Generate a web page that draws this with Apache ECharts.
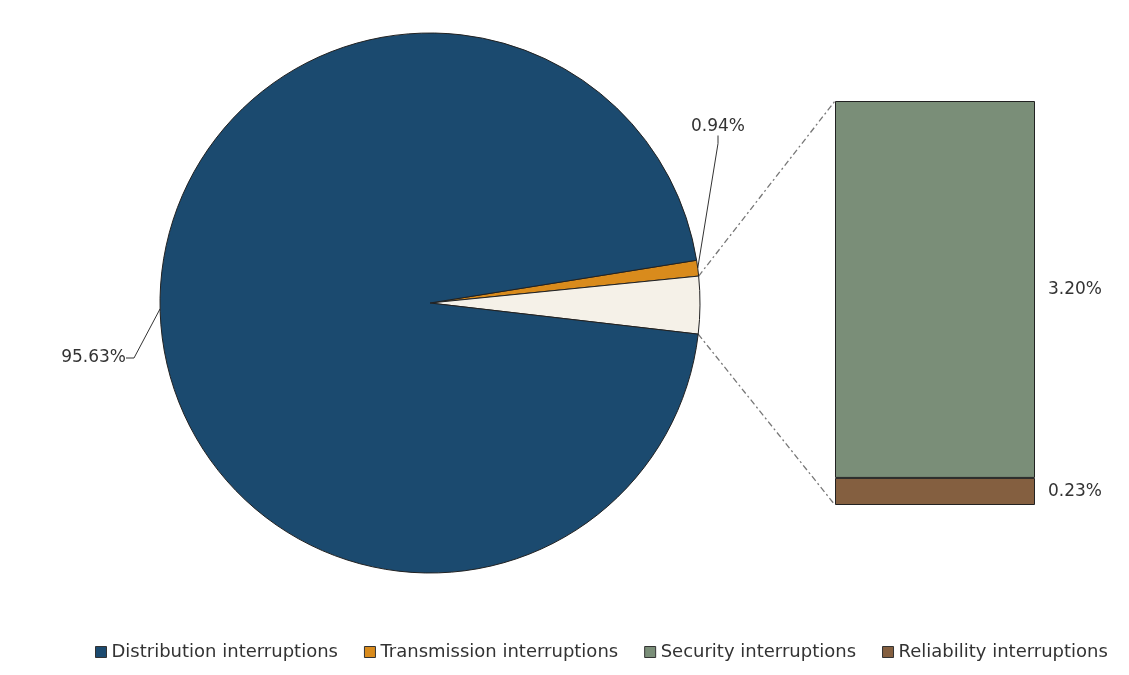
<!DOCTYPE html>
<html>
<head>
<meta charset="utf-8">
<script src="https://cdn.jsdelivr.net/npm/echarts@6/dist/echarts.min.js"></script>
<style>
  html, body { margin: 0; padding: 0; background: #fff; }
  #chart { width: 1129px; height: 675px; }
</style>
</head>
<body>
<div id="chart"></div>
<script>
// values (percent)
const pieNames = ['Transmission interruptions', 'Other', 'Distribution interruptions'];
const pieValues = [0.94, 3.43, 95.63];
const barNames = ['Reliability interruptions', 'Security interruptions'];
const barValues = [0.23, 3.20];
const legendNames = ['Distribution interruptions', 'Transmission interruptions', 'Security interruptions', 'Reliability interruptions'];

const colors = {
  'Distribution interruptions': '#1B4A6F',
  'Transmission interruptions': '#D98B1C',
  'Other': '#F5F1E8',
  'Security interruptions': '#7A8E78',
  'Reliability interruptions': '#845F40'
};

const pieCenter = [430, 303];
const pieRadius = 270;
const grid = { left: 835, top: 101, width: 200, height: 404 };
const otherTotal = barValues.reduce((a, b) => a + b, 0);
const pieTotal = pieValues.reduce((a, b) => a + b, 0);
// put the "other" slice facing the bar
const startAngle = -0.45 + (pieValues[1] / 2 + pieValues[0]) / pieTotal * 360;

const font = 'DejaVu Sans';
const chart = echarts.init(document.getElementById('chart'));

const option = {
  backgroundColor: '#fff',
  textStyle: { fontFamily: font },
  animation: false,
  legend: {
    data: legendNames,
    top: 638,
    left: 90,
    icon: 'rect',
    itemWidth: 11,
    itemHeight: 11,
    itemGap: 26,
    itemStyle: { borderColor: '#333', borderWidth: 1 },
    textStyle: { fontSize: 18, color: '#333', fontFamily: font }
  },
  grid: Object.assign({}, grid),
  xAxis: { type: 'category', data: [''], show: false },
  yAxis: { type: 'value', min: 0, max: otherTotal, show: false },
  series: [
    {
      name: 'Share',
      type: 'pie',
      center: pieCenter,
      radius: pieRadius,
      startAngle: startAngle,
      clockwise: true,
      data: pieNames.map((n, i) => ({
        name: n,
        value: pieValues[i],
        itemStyle: { color: colors[n] },
        label: { show: n !== 'Other' },
        labelLine: { show: n !== 'Other' }
      })),
      itemStyle: { borderColor: '#222', borderWidth: 1 },
      label: {
        show: true,
        position: 'outside',
        formatter: p => p.value.toFixed(2) + '%',
        fontSize: 17,
        color: '#333'
      },
      labelLine: { length: 20, length2: 8, lineStyle: { color: '#333', width: 1 } },
      labelLayout: function (p) {
        if (p.dataIndex === 0) return { x: 691, y: 127, align: 'left', verticalAlign: 'middle' };
        if (p.dataIndex === 2) return { x: 126, y: 358, align: 'right', verticalAlign: 'middle' };
        return {};
      },
      emphasis: { disabled: true }
    },
    ...barNames.map((n, i) => ({
      name: n,
      type: 'bar',
      stack: 'other',
      barWidth: '100%',
      data: [barValues[i]],
      itemStyle: { color: colors[n], borderColor: '#222', borderWidth: 1 },
      label: {
        show: true,
        position: 'right',
        distance: 13,
        formatter: p => p.value.toFixed(2) + '%',
        fontSize: 17,
        color: '#333'
      },
      emphasis: { disabled: true }
    }))
  ]
};
chart.setOption(option);

// dash-dot connectors from the "other" slice to the bar corners
const toRad = d => d * Math.PI / 180;
const a1 = startAngle - pieValues[0] / pieTotal * 360;
const a2 = a1 - pieValues[1] / pieTotal * 360;
const edge = a => [pieCenter[0] + pieRadius * Math.cos(toRad(a)), pieCenter[1] - pieRadius * Math.sin(toRad(a))];
const topPt = chart.convertToPixel({ gridIndex: 0 }, [0, otherTotal]);
const botPt = chart.convertToPixel({ gridIndex: 0 }, [0, 0]);
const p1 = edge(a1), p2 = edge(a2);
const lineStyle = { stroke: '#777', lineWidth: 1.3, lineDash: [6, 3, 2, 3] };
chart.setOption({
  graphic: [
    { type: 'line', shape: { x1: p1[0], y1: p1[1], x2: grid.left, y2: topPt[1] }, style: lineStyle },
    { type: 'line', shape: { x1: p2[0], y1: p2[1], x2: grid.left, y2: botPt[1] }, style: lineStyle }
  ]
});
</script>
</body>
</html>
